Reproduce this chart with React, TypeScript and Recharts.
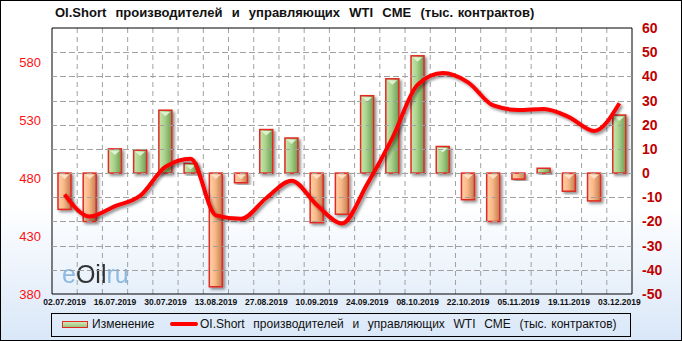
import React from 'react';
import { ComposedChart, Bar, Line, XAxis, YAxis, CartesianGrid, ReferenceArea, ReferenceLine } from 'recharts';

const dates = [
  '02.07.2019', '09.07.2019', '16.07.2019', '23.07.2019', '30.07.2019', '06.08.2019',
  '13.08.2019', '20.08.2019', '27.08.2019', '03.09.2019', '10.09.2019', '17.09.2019',
  '24.09.2019', '01.10.2019', '08.10.2019', '15.10.2019', '22.10.2019', '29.10.2019',
  '05.11.2019', '12.11.2019', '19.11.2019', '26.11.2019', '03.12.2019',
];
// weekly change, right axis
const changes = [-15, -20, 10, 9.5, 26, 4, -47, -4, 18, 14.5, -20.5, -17, 32, 39, 48.5, 11, -11, -20, -2.5, 2, -7.5, -11.5, 24];
// OI short level, left axis
const oiShort = [466, 447, 456, 465, 490, 497, 448, 445, 463, 478, 457, 441, 475, 515, 561, 571, 563, 543, 539, 540, 533, 521, 545];
const leftTicks = [380, 430, 480, 530, 580];
const rightTicks = [-50, -40, -30, -20, -10, 0, 10, 20, 30, 40, 50, 60];

const data = dates.map((date, i) => ({ date, change: changes[i], oi: oiShort[i] }));

const TITLE = 'OI.Short  производителей  и  управляющих  WTI  CME  (тыс. контрактов)';
const FONT = '"Liberation Sans", Arial, sans-serif';
const GRID = '#a0a0a0';

function BevelBar(props: any) {
  const { x, y, width, height, payload } = props;
  if (x == null || y == null || !width || height == null) return null;
  const top = Math.min(y, y + height);
  const h = Math.max(Math.abs(height), 1);
  const up = payload.change >= 0;
  const fill = up ? 'url(#gGreen)' : 'url(#gOrange)';
  const light = up ? '#e4f5d6' : '#ffe6cf';
  return (
    <g filter="url(#shadow)">
      <rect x={x} y={top} width={width} height={h} fill={fill} stroke="#e02a20" strokeWidth={1.5} />
      {h > 7 && (
        <polygon
          points={`${x + 1.5},${top + 1.5} ${x + width - 1.5},${top + 1.5} ${x + width / 2},${top + 6}`}
          fill={light}
          opacity={0.9}
        />
      )}
    </g>
  );
}

function XTick(props: any) {
  const { x, y, payload } = props;
  return (
    <text x={x} y={y + 9} textAnchor="middle" fontSize={8.5} fontWeight="bold" fill="#111" fontFamily={FONT}>
      {payload.value}
    </text>
  );
}

// dashed grid line snapped to whole pixels
function GridLine(props: any) {
  const { x1, x2, y1 } = props;
  const y = Math.round(y1) + 0.5;
  return <line x1={x1} x2={x2} y1={y} y2={y} stroke={GRID} strokeWidth={1} strokeDasharray="5 4" />;
}

function LegendBox() {
  return (
    <div style={{ position: 'absolute', left: 51, top: 313, width: 578, height: 22, border: '1px solid #000', fontFamily: FONT, fontSize: 12, color: '#111' }}>
      <div style={{ position: 'absolute', left: 10, top: 7, width: 24, height: 5, border: '1px solid #e02a20', background: 'linear-gradient(#cfe8b8, #9cc47e)' }} />
      <span style={{ position: 'absolute', left: 40, top: 3, whiteSpace: 'pre' }}>Изменение</span>
      <div style={{ position: 'absolute', left: 118, top: 8, width: 28, height: 4, background: '#ff0000', borderRadius: 2 }} />
      <span style={{ position: 'absolute', left: 148, top: 3, whiteSpace: 'pre', wordSpacing: 1 }}>{TITLE}</span>
    </div>
  );
}

export default function App() {
  return (
    <div
      style={{
        position: 'absolute', left: 0, top: 0, width: 682, height: 341,
        background: 'linear-gradient(#ffffff 0%, #ffffff 60%, #d9e7f8 100%)',
        boxShadow: 'inset 0 0 0 1px #000',
      }}
    >
      <div style={{ position: 'absolute', left: 55, top: 5, fontFamily: FONT, fontSize: 13, fontWeight: 'bold', whiteSpace: 'pre', color: '#111', wordSpacing: 1 }}>
        {TITLE}
      </div>
      <ComposedChart width={682} height={341} data={data} margin={{ top: 28, right: 0, bottom: 17, left: 0 }} barSize={13}>
        <defs>
          <linearGradient id="gGreen" x1="0" y1="0" x2="1" y2="0">
            <stop offset="0%" stopColor="#c9e6b0" />
            <stop offset="45%" stopColor="#a8d28a" />
            <stop offset="100%" stopColor="#6f9a52" />
          </linearGradient>
          <linearGradient id="gOrange" x1="0" y1="0" x2="1" y2="0">
            <stop offset="0%" stopColor="#ffd2ad" />
            <stop offset="45%" stopColor="#f9b886" />
            <stop offset="100%" stopColor="#c07d52" />
          </linearGradient>
          <filter id="shadow" x="-50%" y="-20%" width="200%" height="140%">
            <feDropShadow dx="2" dy="2" stdDeviation="1.5" floodColor="#000" floodOpacity="0.45" />
          </filter>
        </defs>
        <CartesianGrid
          stroke={GRID}
          strokeDasharray="5 4"
          horizontalCoordinatesGenerator={({ offset }: any) =>
            rightTicks.slice(1, -1).map((t) => Math.round(offset.top + ((60 - t) / 110) * offset.height) + 0.5)
          }
          verticalCoordinatesGenerator={({ offset }: any) =>
            dates.slice(1).map((_, i) => offset.left + ((i + 1) * offset.width) / dates.length)
          }
        />
        {rightTicks.slice(1, -1).map((t) => (
          <ReferenceLine key={t} yAxisId="right" y={t} shape={<GridLine />} />
        ))}
        <text x={62} y={283} fontSize={25} fontFamily={FONT} opacity={0.85}>
          <tspan fill="#7cb0de">e</tspan>
          <tspan fill="#111">Oil</tspan>
          <tspan fill="#7cb0de">ru</tspan>
        </text>
        <XAxis dataKey="date" height={30} interval={1} tickLine={false} axisLine={false} tickSize={0} tick={<XTick />} />
        <YAxis
          yAxisId="left"
          orientation="left"
          width={52}
          domain={[380, 610]}
          ticks={leftTicks}
          tickLine={false}
          axisLine={false}
          tickSize={0}
          tickMargin={11}
          tick={{ fill: '#ff1010', fontSize: 13, fontFamily: FONT }}
        />
        <YAxis
          yAxisId="right"
          orientation="right"
          width={50}
          domain={[-50, 60]}
          ticks={rightTicks}
          tickLine={false}
          axisLine={false}
          tickSize={0}
          tickMargin={10}
          tick={{ fill: '#c00000', fontSize: 14, fontWeight: 'bold', fontFamily: FONT, textAnchor: 'start' }}
        />
        <ReferenceArea yAxisId="right" y1={-50} y2={60} fill="none" stroke="#000" strokeWidth={1} fillOpacity={0} />
        <Bar yAxisId="right" dataKey="change" shape={<BevelBar />} isAnimationActive={false} />
        <Line
          yAxisId="left"
          dataKey="oi"
          type="monotone"
          stroke="#ff0000"
          strokeWidth={4}
          dot={false}
          activeDot={false}
          filter="url(#shadow)"
          isAnimationActive={false}
        />
      </ComposedChart>
      <LegendBox />
    </div>
  );
}
